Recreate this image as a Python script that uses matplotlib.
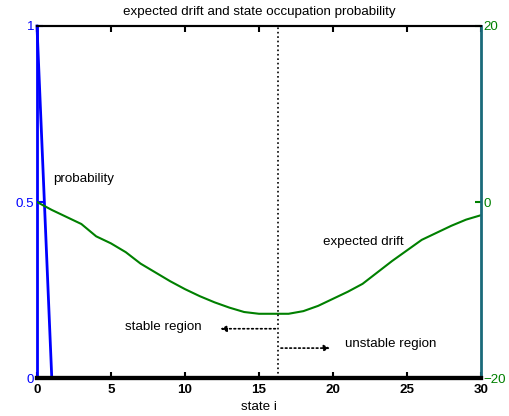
import numpy as np
import matplotlib
matplotlib.use("Agg")
import matplotlib.pyplot as plt

plt.rcParams['font.family'] = ['Liberation Sans', 'DejaVu Sans']

# estados e valores
states = np.arange(0, 31)
prob = [1.0] + [0.0] * 30
drift = [0.0, -0.9, -1.7, -2.5, -3.9, -4.7, -5.7, -7.0, -8.0, -9.0,
         -9.9, -10.7, -11.4, -12.0, -12.5, -12.7, -12.7, -12.7, -12.4, -11.8,
         -11.0, -10.2, -9.3, -8.0, -6.7, -5.5, -4.3, -3.5, -2.7, -2.0, -1.5]
x_ticks = [0, 5, 10, 15, 20, 25, 30]
boundary = 16.3

FS = 9.6

fig = plt.figure(figsize=(5.10, 4.16), dpi=100)
ax = fig.add_axes([0.0725, 0.0913, 0.8705, 0.8462])
ax2 = ax.twinx()

ax.plot(states, prob, color="#0000ff", lw=2, zorder=1, clip_on=False)
ax2.plot(states, drift, color="#008000", lw=1.5)

ax.set_xlim(0, 30)
ax.set_ylim(0, 1)
ax2.set_ylim(-20, 20)
ax.set_xticks(x_ticks)
ax.set_yticks([0, 0.5, 1])
ax.set_yticklabels(["0", "0.5", "1"])
ax2.set_yticks([-20, 0, 20])

ax.tick_params(axis="x", direction="in", top=True, length=4, width=1.5,
               labelsize=FS, pad=4)
ax.tick_params(axis="y", direction="in", length=4, width=1.5, colors="#0000ff",
               labelsize=FS, pad=2)
ax2.tick_params(axis="y", direction="in", length=4, width=1.5, colors="#008000",
                labelsize=FS, pad=2)
for lbl in ax.get_xticklabels():
    lbl.set_fontweight("bold")

for a in (ax, ax2):
    a.spines["top"].set_linewidth(1.5)
    a.spines["bottom"].set_linewidth(3)
    a.spines["bottom"].set_color("black")
ax.spines["left"].set_color("#0000ff")
ax.spines["left"].set_linewidth(2)
ax2.spines["left"].set_visible(False)
ax.spines["right"].set_visible(False)
ax2.spines["right"].set_color("#1a6a7a")
ax2.spines["right"].set_linewidth(2)

# linha de fronteira e setas
ax2.axvline(boundary, color="black", ls=":", lw=1.2)
ax2.annotate("", xy=(12.2, -14.4), xytext=(boundary, -14.4),
             arrowprops=dict(arrowstyle="-|>", ls=":", lw=1.2, color="black",
                             mutation_scale=9))
ax2.annotate("", xy=(20.0, -16.6), xytext=(boundary, -16.6),
             arrowprops=dict(arrowstyle="-|>", ls=":", lw=1.2, color="black",
                             mutation_scale=9))

ax2.text(5.95, -14.2, "stable region", fontsize=FS, va="center")
ax2.text(20.8, -16.1, "unstable region", fontsize=FS, va="center")
ax.text(1.1, 0.565, "probability", fontsize=FS, va="center")
ax.text(19.3, 0.385, "expected drift", fontsize=FS, va="center")

ax.set_title("expected drift and state occupation probability", fontsize=FS, pad=8)
ax.set_xlabel("state i", fontsize=FS, labelpad=4)

fig.savefig("out.png", dpi=100)
